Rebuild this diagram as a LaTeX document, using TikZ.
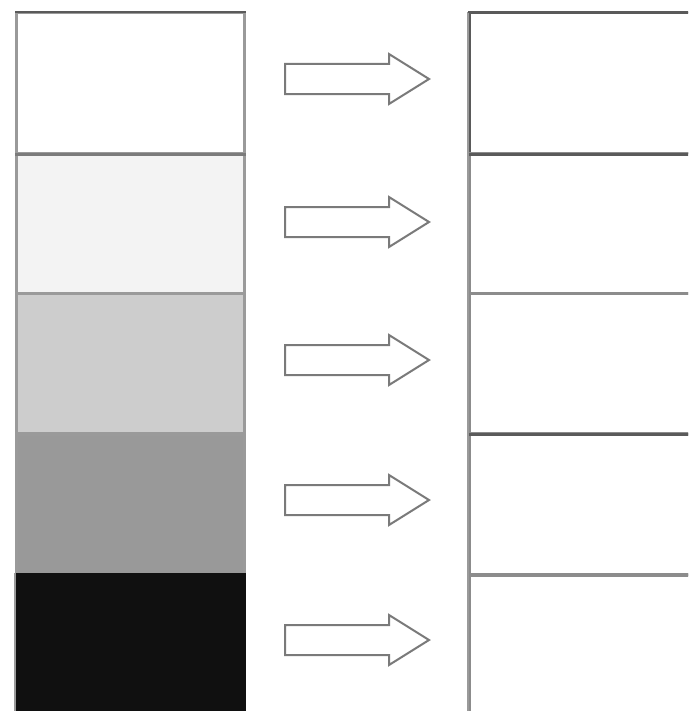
\documentclass[tikz,border=0pt]{standalone}
\usetikzlibrary{shapes.arrows}
\definecolor{bordgray}{HTML}{9A9A9A}
\definecolor{darkline}{HTML}{5A5A5A}
\definecolor{lightline}{HTML}{8C8C8C}
\definecolor{shadeA}{HTML}{FFFFFF}
\definecolor{shadeB}{HTML}{F3F3F3}
\definecolor{shadeC}{HTML}{CDCDCD}
\definecolor{shadeD}{HTML}{999999}
\definecolor{shadeE}{HTML}{101010}
\definecolor{arrowline}{HTML}{7A7A7A}
\tikzset{
  cell/.style={draw=bordgray, line width=2.5pt, rectangle, inner sep=0pt, anchor=north west,
    minimum width=228pt, minimum height=140pt},
  rcell/.style={draw=lightline, line width=2.5pt, rectangle, inner sep=0pt, anchor=north west,
    minimum width=240pt, minimum height=140pt, fill=white},
  blockarrow/.style={single arrow, draw=arrowline, line width=2pt, fill=white, inner sep=0pt,
    minimum height=144pt, single arrow head extend=10pt,
    single arrow tip angle=64, anchor=west}
}
\newcommand{\shaftstrut}{\rule{0pt}{28pt}}
\begin{document}
\begin{tikzpicture}[x=1pt,y=-1pt]
\useasboundingbox (0,0) rectangle (688,711);
\fill[white] (0,0) rectangle (688,711);
\begin{scope}
\clip (0,0) rectangle (688,711);
% left column
\node[cell, fill=shadeA] (l1) at (15,12) {};
\node[cell, fill=shadeB] (l2) at (15,152) {};
\node[cell, fill=shadeC] (l3) at (15,292) {};
\node[cell, fill=shadeD] (l4) at (15,433) {};
\node[cell, fill=shadeE, draw=shadeE] (l5) at (15,573) {};
\draw[bordgray, line width=2.5pt] (l5.north west) -- (l5.south west);
% right column
\node[rcell, draw=darkline] (r1) at (468,12) {};
\node[rcell] (r2) at (468,152) {};
\node[rcell] (r3) at (468,292) {};
\node[rcell] (r4) at (468,433) {};
\node[rcell] (r5) at (468,573) {};
\draw[darkline, line width=2.5pt] (r1.south west) -- (r1.south east);
\draw[darkline, line width=2.5pt] (r3.south west) -- (r3.south east);
\draw[lightline, line width=2.5pt] (r4.south west) -- (r4.south east);
\draw[bordgray, line width=2.5pt] (r1.north west) -- (r5.south west);
\draw[darkline, line width=2.5pt] (r1.north west) -- (r1.north east);
\draw[darkline, line width=2.5pt] (l1.north west) -- (l1.north east);
\draw[darkline!80, line width=2.5pt] (l1.south west) -- (l1.south east);
% arrows
\node[blockarrow] (a1) at (284,79) {\shaftstrut};
\node[blockarrow] (a2) at (284,222) {\shaftstrut};
\node[blockarrow] (a3) at (284,360) {\shaftstrut};
\node[blockarrow] (a4) at (284,500) {\shaftstrut};
\node[blockarrow] (a5) at (284,640) {\shaftstrut};
\end{scope}
\end{tikzpicture}
\end{document}
